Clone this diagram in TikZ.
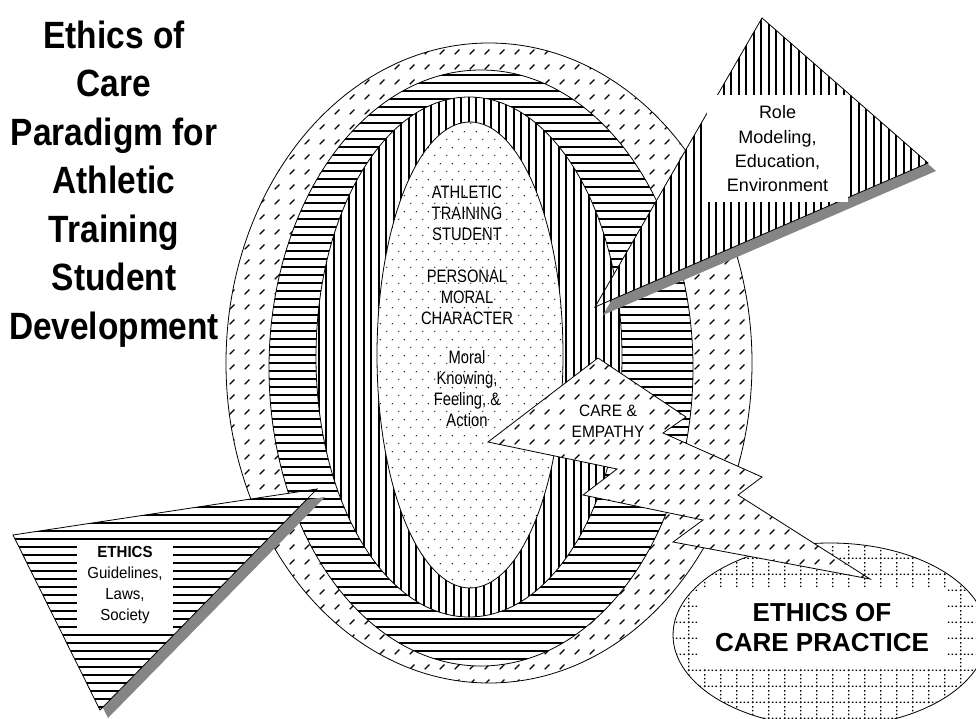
\documentclass[tikz,border=0pt]{standalone}
\usepackage{fontspec}
\setmainfont{Liberation Sans}
\newfontfamily\titlefont[FakeStretch=0.88]{Liberation Sans}
\newfontfamily\narrowfont[FakeStretch=0.82]{Liberation Sans}
\newfontfamily\semifont[FakeStretch=0.94]{Liberation Sans}
\usetikzlibrary{patterns}

% fill patterns of the rings
\pgfdeclarepatternformonly{hstripes}{\pgfqpoint{-1pt}{-1pt}}{\pgfqpoint{9pt}{9pt}}{\pgfqpoint{8pt}{8pt}}{%
  \pgfsetlinewidth{1.7pt}%
  \pgfpathmoveto{\pgfqpoint{-1pt}{4pt}}%
  \pgfpathlineto{\pgfqpoint{9pt}{4pt}}%
  \pgfusepath{stroke}}
\pgfdeclarepatternformonly{vstripes}{\pgfqpoint{-1pt}{-1pt}}{\pgfqpoint{8.5pt}{8.5pt}}{\pgfqpoint{7.5pt}{7.5pt}}{%
  \pgfsetlinewidth{1.6pt}%
  \pgfpathmoveto{\pgfqpoint{3.75pt}{-1pt}}%
  \pgfpathlineto{\pgfqpoint{3.75pt}{8.5pt}}%
  \pgfusepath{stroke}}
\pgfdeclarepatternformonly{dashmarks}{\pgfqpoint{0pt}{0pt}}{\pgfqpoint{15pt}{15pt}}{\pgfqpoint{15pt}{15pt}}{%
  \pgfsetlinewidth{1.3pt}%
  \pgfpathmoveto{\pgfqpoint{5pt}{5pt}}%
  \pgfpathlineto{\pgfqpoint{10pt}{10pt}}%
  \pgfusepath{stroke}}
\pgfdeclarepatternformonly{stipple}{\pgfqpoint{0pt}{0pt}}{\pgfqpoint{12pt}{16pt}}{\pgfqpoint{12pt}{16pt}}{%
  \pgfpathcircle{\pgfqpoint{3pt}{4pt}}{0.75pt}%
  \pgfpathcircle{\pgfqpoint{9pt}{12pt}}{0.75pt}%
  \pgfusepath{fill}}
\pgfdeclarepatternformonly{dotgrid}{\pgfqpoint{0pt}{0pt}}{\pgfqpoint{16pt}{16pt}}{\pgfqpoint{16pt}{16pt}}{%
  \pgfsetlinewidth{1.4pt}%
  \pgfsetdash{{1.6pt}{2.4pt}}{0pt}%
  \pgfpathmoveto{\pgfqpoint{0pt}{0.7pt}}%
  \pgfpathlineto{\pgfqpoint{16pt}{0.7pt}}%
  \pgfpathmoveto{\pgfqpoint{0.7pt}{0pt}}%
  \pgfpathlineto{\pgfqpoint{0.7pt}{16pt}}%
  \pgfusepath{stroke}}

\begin{document}
\begin{tikzpicture}[x=1pt, y=-1pt,
    band/.style={draw=black, line width=0.8pt, preaction={fill=white}},
    shadow/.style={fill=black!48},
    label box/.style={fill=white, inner sep=0pt, align=center}
  ]
  \useasboundingbox (0,0) rectangle (976,719);

  % rings, outside in
  \draw[band, pattern=dashmarks] (489,363) ellipse [x radius=263, y radius=320];
  \draw[band, pattern=hstripes] (481,368) ellipse [x radius=212, y radius=298];
  \draw[band, pattern=vstripes] (469,357) ellipse [x radius=153, y radius=260];
  \draw[band, pattern=stipple] (470,355) ellipse [x radius=93, y radius=233];

  \node[align=center, font=\narrowfont\fontsize{18}{21}\selectfont] (student) at (467,306)
    {ATHLETIC\\TRAINING\\STUDENT\\[21pt]PERSONAL\\MORAL\\CHARACTER\\[18pt]%
     Moral\\Knowing,\\Feeling, \&\\Action};

  \node[align=center, font=\titlefont\fontsize{38}{48.5}\selectfont\bfseries] (title) at (114,184)
    {Ethics of\\Care\\Paradigm for\\Athletic\\Training\\Student\\Development};

  % role modeling wedge
  \fill[shadow] (603,315) -- (936,171) -- (770,26) -- cycle;
  \draw[band, pattern=vstripes] (762,18) -- (928,163) -- (595,307) -- cycle;
  \node[label box, minimum width=141pt, minimum height=107pt,
        font=\fontsize{18}{24.3}\selectfont] (role) at (777.5,149)
    {Role\\Modeling,\\Education,\\Environment};

  % ethics wedge
  \fill[shadow] (21,543) -- (325,497) -- (108,718) -- cycle;
  \draw[band, pattern=hstripes] (13,535) -- (317,489) -- (100,710) -- cycle;
  \node[label box, minimum width=96pt, minimum height=86pt,
        font=\semifont\fontsize{16}{21}\selectfont] (ethics) at (125,585)
    {\textbf{ETHICS}\\Guidelines,\\Laws,\\Society};

  % practice
  \draw[band, pattern=dotgrid] (830,635) ellipse [x radius=157, y radius=92];
  \node[label box, minimum width=248pt, minimum height=79pt,
        font=\fontsize{26}{30}\selectfont\bfseries] (practice) at (822,627.5)
    {ETHICS OF\\CARE PRACTICE};

  % care bolt
  \draw[band, pattern=dashmarks] (598,358) -- (686,417) -- (663,433) -- (762,477)
    -- (738,495) -- (870,579) -- (673,542) -- (703,520) -- (583,495)
    -- (617,469) -- (488,442) -- cycle;
  \node[label box, inner sep=2pt, font=\semifont\fontsize{16.5}{21}\selectfont] (care) at (608,421)
    {CARE \&\\EMPATHY};
\end{tikzpicture}
\end{document}
